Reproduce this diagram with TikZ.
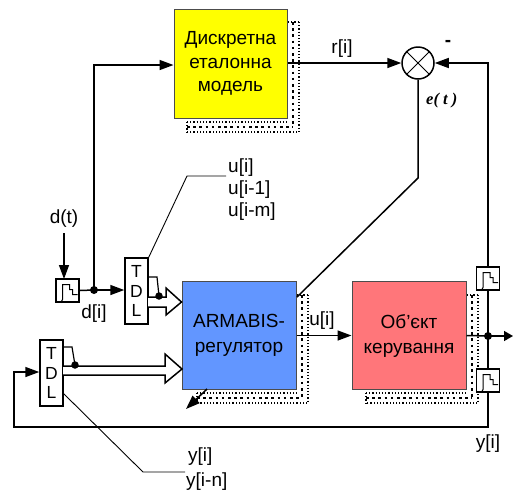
\documentclass[tikz,border=0pt]{standalone}
\usepackage{fontspec}
\setmainfont{Liberation Sans}
\newfontfamily\serifit{Liberation Serif}
\usetikzlibrary{arrows.meta}
\definecolor{modelyellow}{RGB}{255,255,0}
\tikzset{
 x=1pt,y=-1pt,
 wire/.style={line width=1.5pt},
 thin wire/.style={line width=0.9pt},
 tip/.style={-{Triangle[length=14pt,width=10pt]}},
 block/.style={draw=black!70!white,line width=1pt,minimum width=114pt,minimum height=108pt,inner sep=0pt,align=center},
 sampler/.style={draw,line width=1.5pt,fill=white,minimum width=23pt,minimum height=23pt,inner sep=0pt},
 tdl/.style={draw,line width=1.5pt,fill=white,minimum width=23pt,minimum height=66pt,inner sep=0pt,align=center,font=\fontsize{17.5}{19.5}\selectfont},
 lbl/.style={inner sep=0pt,font=\fontsize{19}{20}\selectfont},
 dot/.style={circle,fill=black,inner sep=0pt,minimum size=8pt},
 hollow/.style={draw,line width=1.5pt,fill=white,line join=miter},
 bigdots/.style={line width=2.6pt,dash pattern=on 2.6pt off 3.6pt},
 smalldots/.style={line width=1.1pt,dash pattern=on 1.2pt off 2pt},
}
\newcommand{\shadowband}[4]{%
 \draw[bigdots] (#1+6,#4)--(#1+6,#2+9);
 \draw[bigdots] (#3,#2+9)--(#1+6,#2+9);
 \draw[smalldots] (#1+12,#4)--(#1+12,#2+14)--(#3,#2+14);
 \draw[smalldots] (#1+1,#4)--(#1+12,#4);
 \draw[smalldots] (#3,#2+4)--(#1+1,#2+4);
 \draw[smalldots] (#3,#2+4)--(#3,#2+14);
}
\newcommand{\stepicon}[1]{%
 \draw[line width=1pt] ([shift={(-10,9)}]#1) -- ++(5,0) -- ++(0,-15) -- ++(7,0) -- ++(0,5) -- ++(3,0) -- ++(0,5) -- ++(5,0);
}
\begin{document}
\begin{tikzpicture}
\useasboundingbox (0,0) rectangle (513,491);
% shadows
\shadowband{287}{118}{187}{22}
\shadowband{296}{389}{197}{295}
\shadowband{466}{389}{366}{295}
% blocks
\node[block,fill=modelyellow,minimum width=113pt,minimum height=109pt,font=\fontsize{19}{23.5}\selectfont] (model) at (230.5,63.5) {Дискретна\\еталонна\\модель};
\node[block,fill={rgb,255:red,98;green,150;blue,255},font=\fontsize{19}{25}\selectfont] (reg) at (239,335.5) {ARMABIS-\\регулятор};
\node[block,fill={rgb,255:red,255;green,118;blue,122},font=\fontsize{19}{25}\selectfont] (obj) at (409,335.5) {Об’єкт\\керування};
\node[draw,circle,line width=1.5pt,minimum size=32pt,inner sep=0pt] (sum) at (418,63) {};
\draw[line width=1pt] (sum.north west)--(sum.south east) (sum.north east)--(sum.south west);
% samplers and TDLs
\node[sampler] (s1) at (67.5,290.5) {};
\node[sampler] (s2) at (488,278.5) {};
\node[sampler] (s3) at (488,380.5) {};
\node[tdl] (t1) at (136.5,291) {T\\D\\L};
\node[tdl] (t2) at (51.5,373) {T\\D\\L};
\coordinate (jdc) at (94,290);
\coordinate (joc) at (488,336);
\coordinate (topcorner) at (94,65);
\coordinate (modelin) at (model.west |- topcorner);
% connectors
\draw[wire,tip] (jdc) -- (topcorner) -- (modelin);
\draw[wire] (s1.east)--(jdc);
\draw[wire,tip] (jdc)--(t1.west |- jdc);
\coordinate (dt) at (64,233);
\draw[wire,tip] (dt)--(64,279);
\draw[wire,tip] (model.east |- sum)--(sum.west);
\coordinate (rc) at (488,63);
\draw[wire,tip] (s2.north)--(rc)--(sum.east);
\coordinate (ebend) at (418,178);
\coordinate (eend) at (297,297);
\draw[wire] (sum.south)--(ebend)--(eend);
\draw[wire,tip] (reg.east)--(obj.west);
\coordinate (oend) at (513,336);
\draw[wire] (obj.east)--(joc);
\draw[wire,-{Triangle[length=9pt,width=10pt]}] (joc)--(oend);
\draw[wire] (s2.south)--(s3.north);
\coordinate (fb1) at (488,427);
\coordinate (fb2) at (14,427);
\coordinate (fb3) at (14,372);
\draw[wire,tip] (s3.south)--(fb1)--(fb2)--(fb3)--(t2.west |- fb3);
\coordinate (darr) at (186,409);
\draw[wire,-{Triangle[length=14pt,width=10pt]}] (207,389)--(darr);
% hollow buses
\draw[hollow] (148,297)--(166,297)--(166,288)--(181.5,302)--(166,315)--(166,307)--(148,307);
\draw[hollow] (63,366)--(165,366)--(165,354)--(182,369)--(165,383)--(165,375)--(63,375);
% taps
\draw[line width=1.2pt] (148,277)--(157,277)--(159,296);
\draw[line width=1.2pt] (63,347)--(72,347)--(75,365);
% junction dots
\node[dot] (jd) at (jdc) {};
\node[dot] (jo) at (joc) {};
\node[dot,minimum size=7.5pt] (j1) at (159,296) {};
\node[dot,minimum size=7.5pt] (j2) at (75,365) {};
% icons
\stepicon{s1}\stepicon{s2}\stepicon{s3}
% leaders
\coordinate (ub) at (187,176);
\coordinate (ue) at (226,176);
\draw[thin wire] (t1.north east)--(ub)--(ue);
\coordinate (yb) at (143,472);
\coordinate (ye) at (185,472);
\draw[thin wire] (63,393)--(yb)--(ye);
% labels
\node[lbl,anchor=base] (l1) at (64,223) {d(t)};
\node[lbl,anchor=base] (l2) at (94,318) {d[i]};
\node[lbl,anchor=base west] (l3) at (228,172) {u[i]};
\node[lbl,anchor=base west] (l4) at (228,194) {u[i-1]};
\node[lbl,anchor=base west] (l5) at (228,216) {u[i-m]};
\node[lbl,anchor=base west] (l6) at (188,461) {y[i]};
\node[lbl,anchor=base west] (l7) at (186,486) {y[i-n]};
\node[lbl,anchor=base] (l8) at (342,53) {r[i]};
\node[lbl,anchor=base] (l9) at (322,325) {u[i]};
\node[lbl,anchor=base] (l10) at (488,448) {y[i]};
\node[lbl,anchor=base,font=\fontsize{19}{20}\selectfont\bfseries] (l11) at (448,46) {-};
\node[inner sep=0pt,anchor=base west,font=\fontsize{16.5}{18}\selectfont\serifit\bfseries\itshape] (l12) at (426,104) {e( t )};
\end{tikzpicture}
\end{document}
